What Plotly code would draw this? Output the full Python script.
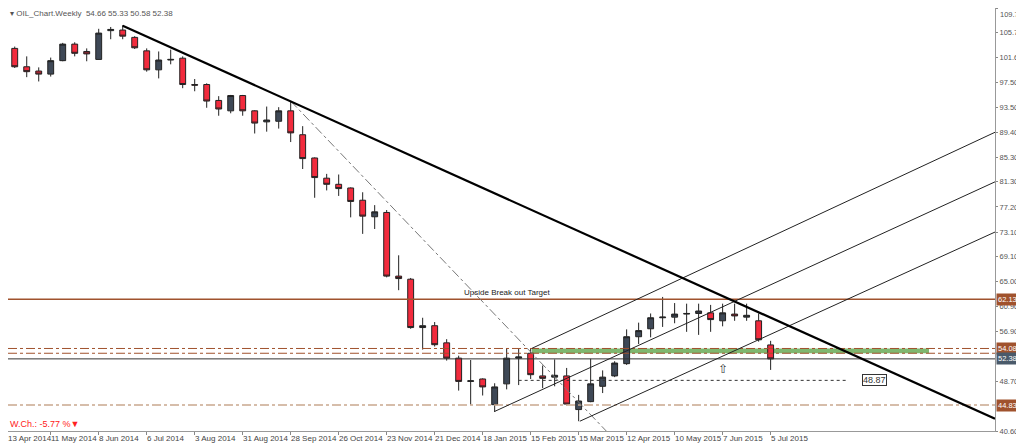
import plotly.graph_objects as go

# weekly candles, index 0 = week of 13 Apr 2014
opens  = [102.5,103.1,100.1,99.4,98.9,101.1,103.8,102.6,101.3,106.0,106.1,104.9,102.7,99.6,101.2,101.5,97.2,97.2,94.6,92.9,95.4,92.9,91.1,91.2,92.9,89.0,85.2,81.9,80.9,80.3,78.3,75.6,76.3,65.9,65.4,57.5,57.8,55.0,52.5,48.7,49.1,44.9,48.3,52.5,53.3,49.6,49.4,49.6,44.1,45.4,47.9,49.6,51.6,56.0,57.3,59.1,59.2,59.7,59.8,59.9,58.6,59.7,59.2,58.6,54.66]
highs  = [103.8,103.4,101.8,100.0,101.6,104.0,104.1,103.1,106.3,106.6,106.9,105.1,103.1,102.6,102.9,101.8,98.1,97.4,95.3,95.5,95.5,93.0,93.6,93.5,94.5,90.4,85.3,82.6,82.5,80.4,79.6,77.5,76.7,69.3,65.6,59.1,58.4,55.6,52.9,52.2,49.2,48.4,54.1,54.0,54.1,51.3,52.3,50.9,46.5,52.4,50.5,52.0,57.2,58.3,59.8,62.5,61.5,61.4,61.4,61.2,61.4,61.4,61.4,59.8,55.33]
lows   = [102.3,99.9,98.4,97.7,98.5,101.0,101.8,101.0,101.3,104.6,104.6,103.0,99.3,98.2,100.5,96.6,96.1,93.4,92.1,92.5,92.1,89.2,89.5,90.0,87.8,83.4,78.7,79.9,79.0,75.5,72.8,73.6,65.7,63.6,57.3,53.9,54.4,52.1,47.2,44.9,46.4,43.7,47.4,48.1,49.1,47.6,47.9,44.8,42.2,45.3,46.8,49.4,51.4,54.8,55.9,57.6,58.2,56.8,56.3,56.8,57.7,58.6,58.6,55.2,50.58]
closes = [103.5,100.1,99.3,98.9,101.1,103.8,102.3,102.2,105.6,106.2,105.1,103.2,99.6,101.2,101.3,97.2,97.1,94.5,93.2,95.4,92.9,90.9,91.4,92.9,89.3,85.1,82.0,80.9,80.2,78.1,75.7,76.4,65.9,65.5,57.5,57.8,54.7,52.5,48.7,48.8,47.8,47.8,52.5,52.7,49.8,49.2,49.7,45.0,45.5,48.3,49.4,51.7,56.0,57.0,59.1,59.2,59.7,59.8,60.2,58.8,59.9,59.4,59.5,55.5,52.38]
weeks = list(range(len(opens)))

tick_idx = [0,4,8,12,16,20,24,28,32,36,40,44,48,52,56,60,64]
tick_labels = ["13 Apr 2014","11 May 2014","8 Jun 2014","6 Jul 2014","3 Aug 2014","31 Aug 2014",
               "28 Sep 2014","26 Oct 2014","23 Nov 2014","21 Dec 2014","18 Jan 2015","15 Feb 2015",
               "15 Mar 2015","12 Apr 2015","10 May 2015","7 Jun 2015","5 Jul 2015"]
y_ticks = [109.70,105.70,101.60,97.50,93.50,89.40,85.30,81.30,77.20,73.10,69.10,65.00,60.90,56.90,48.70,40.60]

# drawn objects (x = week index, y = price)
trend_x, trend_y = [10.0, 82.7], [106.8, 42.6]
fib_x, fib_y = [24.0, 50.3], [94.5, 40.6]
chanA_x, chanA_y = [44.1, 82.7], [54.1, 89.4]
chanB_x, chanB_y = [41.0, 82.7], [43.8, 81.3]
chanC_x, chanC_y = [48.1, 82.7], [42.2, 73.1]
target_lvl = 62.13
zone_hi, zone_lo = 54.08, 53.30
price_lvl = 52.38
low_lvl = 44.83
sup_lvl = 48.87

XR = [0.44, 82.7]
YR = [40.6, 109.7]
fig = go.Figure()
fig.add_trace(go.Candlestick(x=weeks, open=opens, high=highs, low=lows, close=closes,
    increasing=dict(fillcolor="#3e4856", line=dict(color="#222222", width=1)),
    decreasing=dict(fillcolor="#f22b3d", line=dict(color="#222222", width=1)),
    whiskerwidth=0, showlegend=False, hoverinfo="skip"))

def seg(x, y, color, width, dash="solid"):
    fig.add_trace(go.Scatter(x=x, y=y, mode="lines", line=dict(color=color, width=width, dash=dash),
                             showlegend=False, hoverinfo="skip"))

fig.add_shape(type="rect", x0=44.1, x1=77.2, y0=zone_lo, y1=zone_hi, fillcolor="rgba(95,165,75,0.8)", line_width=0, layer="below")
seg(XR, [target_lvl]*2, "#a0522d", 1.5)
seg(XR, [zone_hi]*2, "#a0522d", 1, "dashdot")
seg(XR, [zone_lo]*2, "#a0522d", 1, "dashdot")
seg(XR, [price_lvl]*2, "#333333", 1)
seg(XR, [low_lvl]*2, "#c9a88f", 1.5, "dashdot")
seg([43.0, 70.5], [sup_lvl]*2, "#333333", 1, "dot")
seg(fib_x, fib_y, "#777777", 1, "dashdot")
seg(chanA_x, chanA_y, "#222222", 1)
seg(chanB_x, chanB_y, "#222222", 1)
seg(chanC_x, chanC_y, "#222222", 1)
seg(trend_x, trend_y, "#000000", 2.2)

F = "Liberation Sans"
ann = []
ann.append(dict(x=1.0, xref="paper", y=YR[1], yref="y", text=f"{y_ticks[0]:.2f}", showarrow=False, xanchor="left",
                yanchor="top", xshift=3, font=dict(size=7.5, color="#555", family=F)))
for lvl, bg in [(target_lvl, "#a0522d"), (zone_hi, "#a0522d"), (price_lvl, "#4a5a6a"), (low_lvl, "#a0522d")]:
    ann.append(dict(x=1.0, xref="paper", y=lvl, yref="y", text=f"{lvl:.2f}", showarrow=False, xanchor="left",
                    bgcolor=bg, font=dict(color="white", size=7.5, family=F), borderpad=1, xshift=1))
ann.append(dict(x=71.6, y=sup_lvl, text=f"{sup_lvl:.2f}", showarrow=False, xanchor="left", bgcolor="white",
                bordercolor="#333", borderwidth=1, borderpad=0, font=dict(size=9, color="#333", family=F)))
ann.append(dict(x=38.3, y=target_lvl, text="Upside Break out Target", showarrow=False, xanchor="left", yanchor="bottom",
                font=dict(size=8, color="#222", family=F)))
ann.append(dict(x=60.0, y=50.8, text="⇧", showarrow=False, font=dict(size=12, color="#333")))
ann.append(dict(x=0.0, xref="paper", y=0.0, yref="paper", text="W.Ch.: -5.77 %▼", showarrow=False, xanchor="left",
                yanchor="bottom", font=dict(size=9, color="#ff2020", family=F)))
ann.append(dict(x=0.0, xref="paper", y=1.0, yref="paper", text="▾ OIL_Chart.Weekly  54.66 55.33 50.58 52.38",
                showarrow=False, xanchor="left", yanchor="bottom", yshift=-12, font=dict(size=8, color="#555", family=F)))
for i, t in zip(tick_idx, tick_labels):
    ann.append(dict(x=max(i, XR[0]), y=0, yref="paper", text=t, showarrow=False, xanchor="left", yanchor="top", yshift=-1, xshift=-2,
                    font=dict(size=8, color="#444", family=F)))

fig.update_layout(width=1016, height=439, margin=dict(l=0, r=29, t=0, b=16),
    paper_bgcolor="white", plot_bgcolor="white", annotations=ann,
    xaxis=dict(range=XR, rangeslider=dict(visible=False), showgrid=False, tickvals=tick_idx, ticktext=[""]*len(tick_idx),
               ticks="outside", ticklen=3, tickcolor="#888", showline=True, linecolor="#999", zeroline=False, automargin=False),
    yaxis=dict(range=YR, side="right", tickvals=y_ticks, ticktext=[f"{v:.2f}" for v in y_ticks],
               showgrid=False, ticks="outside", ticklen=2, tickcolor="#888", showline=True, linecolor="#999", automargin=False,
               tickfont=dict(size=7.5, color="#555", family=F), zeroline=False))
fig.write_html("out.html")
